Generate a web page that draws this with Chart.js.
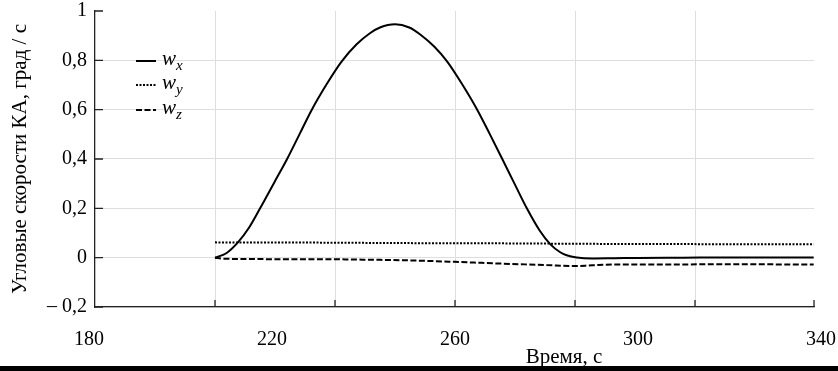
<!DOCTYPE html>
<html><head><meta charset="utf-8">
<script src="https://cdn.jsdelivr.net/npm/chart.js@4"></script>
<style>
html,body{margin:0;padding:0;background:#fff;}
#wrap{position:relative;width:838px;height:371px;overflow:hidden;background:#fff;}
#c{position:absolute;left:0;top:0;}
#ov{position:absolute;left:0;top:0;pointer-events:none;}
#bar{position:absolute;left:0;right:0;top:366px;height:5px;background:#000;}
</style></head><body>
<div id="wrap"><canvas id="c" width="838" height="371"></canvas>
<svg id="ov" width="838" height="371" xmlns="http://www.w3.org/2000/svg"></svg>
<div id="bar"></div></div>
<script>
// ---- data ----
const xTickLabels = [180, 220, 260, 300, 340];
const xGridTicks = [207.54, 233.77, 260, 286.23, 312.46, 338.47];
const yTicks = [-0.2, 0, 0.2, 0.4, 0.6, 0.8, 1];
const xTitle = 'Время, с';
const yTitle = 'Угловые скорости КА, град / с';
const legendSubs = ['x', 'y', 'z'];

const timeWx = [207.54, 210, 212.6, 215, 217.4, 220.5, 223.3, 226, 228.7, 232, 235.2, 238.5, 241.4, 243.6, 246.9, 250, 252.4, 255.5, 258.3, 261.5, 264.7, 267.5, 270.2, 273, 275.7, 278.5, 280.8, 283, 284.4, 286.6, 290, 295, 300, 310, 320, 330, 338.4];
const wx = [0, 0.018, 0.063, 0.122, 0.2, 0.305, 0.4, 0.5, 0.6, 0.705, 0.795, 0.865, 0.91, 0.933, 0.946, 0.933, 0.905, 0.855, 0.795, 0.705, 0.605, 0.505, 0.405, 0.30, 0.2, 0.11, 0.055, 0.022, 0.01, 0.001, -0.003, -0.002, -0.001, 0.0, 0.001, 0.001, 0.001];

const timeWy = [207.54, 230, 250, 270, 290, 310, 338.4];
const wy = [0.062, 0.061, 0.059, 0.058, 0.056, 0.055, 0.054];

const timeWz = [207.54, 209, 212, 220, 230, 240, 250, 260, 270, 280, 286, 290, 295, 305, 315, 325, 338.4];
const wz = [0, -0.004, -0.005, -0.006, -0.006, -0.008, -0.011, -0.017, -0.024, -0.030, -0.034, -0.031, -0.028, -0.028, -0.027, -0.027, -0.028];

const X_MIN = 181.31, X_MAX = 338.47;

// ---- chart ----
Chart.defaults.font.family = "'Liberation Serif', 'Times New Roman', serif";
Chart.defaults.color = '#000';

const pts = (ts, vs) => ts.map((t, i) => ({x: t, y: vs[i]}));
const fmt = v => {
  if (Math.abs(v) < 1e-9) return '0';
  if (Math.abs(v - 1) < 1e-9) return '1';
  const s = Math.abs(v).toFixed(1).replace('.', ',');
  return v < 0 ? '\u2013 ' + s : s;
};

const innerTicks = {
  id: 'innerTicks',
  afterDraw(chart) {
    const {ctx, chartArea: a} = chart;
    const x = chart.scales.x, y = chart.scales.y;
    ctx.save();
    ctx.strokeStyle = '#222';
    ctx.lineWidth = 1.3;
    ctx.beginPath();
    xGridTicks.forEach(v => { const p = x.getPixelForValue(v); ctx.moveTo(p, a.bottom); ctx.lineTo(p, a.bottom - 7); });
    yTicks.forEach(v => { const p = y.getPixelForValue(v); ctx.moveTo(a.left, p); ctx.lineTo(a.left + 8, p); });
    ctx.stroke();
    ctx.restore();
  }
};

const dashes = [[], [2, 1.5], [6, 2.5]];

new Chart(document.getElementById('c'), {
  type: 'line',
  data: {
    datasets: [
      {label: 'wx', data: pts(timeWx, wx), borderDash: dashes[0]},
      {label: 'wy', data: pts(timeWy, wy), borderDash: dashes[1]},
      {label: 'wz', data: pts(timeWz, wz), borderDash: dashes[2]}
    ].map(d => Object.assign({borderColor: '#000', borderWidth: 2, pointRadius: 0, fill: false, cubicInterpolationMode: 'monotone'}, d))
  },
  options: {
    responsive: false, animation: false, devicePixelRatio: 1,
    layout: {padding: {top: 11, right: 24, left: 0, bottom: 0}},
    plugins: {legend: {display: false}, tooltip: {enabled: false}},
    scales: {
      x: {
        type: 'linear', position: 'bottom', min: X_MIN, max: X_MAX,
        afterBuildTicks: s => { s.ticks = xGridTicks.map(v => ({value: v})); },
        ticks: {display: false},
        grid: {drawTicks: false, lineWidth: 1, color: c => (c.tick && c.tick.value > 338) ? 'rgba(0,0,0,0)' : '#dedede'},
        border: {display: true, color: '#222', width: 1.3},
        afterFit: s => { s.height = 0; s.paddingLeft = 0; s.paddingRight = 0; }
      },
      x2: {
        type: 'linear', position: 'bottom', min: X_MIN, max: X_MAX,
        afterBuildTicks: s => { s.ticks = xTickLabels.map(v => ({value: v})); },
        ticks: {autoSkip: false, maxRotation: 0, padding: 13, color: '#000', font: {size: 20}, callback: v => String(v)},
        grid: {display: false}, border: {display: false},
        afterFit: s => { s.height = 64; s.paddingLeft = 0; s.paddingRight = 0; }
      },
      y: {
        min: -0.2, max: 1,
        afterBuildTicks: s => { s.ticks = yTicks.map(v => ({value: v})); },
        ticks: {padding: 8, color: '#000', font: {size: 20}, callback: v => fmt(v)},
        grid: {drawTicks: false, lineWidth: 1, color: c => (c.tick && c.tick.value > 0.99) ? 'rgba(0,0,0,0)' : '#dedede'},
        border: {color: '#222', width: 1.3},
        title: {display: true, text: yTitle, color: '#000', font: {size: 21}, padding: {top: 8, bottom: 0}},
        afterFit: s => { s.width = 95; s.paddingTop = 0; s.paddingBottom = 0; }
      }
    }
  },
  plugins: [innerTicks]
});

// ---- legend & x title overlay (SVG text) ----
const NS = 'http://www.w3.org/2000/svg';
const svg = document.getElementById('ov');
const rowsY = [61, 85, 110];
const fam = "Liberation Serif, Times New Roman, serif";
legendSubs.forEach((sub, i) => {
  const ly = rowsY[i];
  const ln = document.createElementNS(NS, 'line');
  ln.setAttribute('x1', 136); ln.setAttribute('x2', 156);
  ln.setAttribute('y1', ly); ln.setAttribute('y2', ly);
  ln.setAttribute('stroke', '#000'); ln.setAttribute('stroke-width', 2);
  if (dashes[i].length) ln.setAttribute('stroke-dasharray', dashes[i].join(' '));
  svg.appendChild(ln);
  const tx = document.createElementNS(NS, 'text');
  tx.setAttribute('x', 162); tx.setAttribute('y', ly + 4);
  tx.setAttribute('font-family', fam); tx.setAttribute('font-size', 21);
  tx.setAttribute('font-style', 'italic');
  tx.appendChild(document.createTextNode('w'));
  const ts = document.createElementNS(NS, 'tspan');
  ts.setAttribute('font-size', 15); ts.setAttribute('dy', 5);
  ts.textContent = sub;
  tx.appendChild(ts);
  svg.appendChild(tx);
});
const xt = document.createElementNS(NS, 'text');
xt.setAttribute('x', 564); xt.setAttribute('y', 363);
xt.setAttribute('text-anchor', 'middle');
xt.setAttribute('font-family', fam); xt.setAttribute('font-size', 21);
xt.textContent = xTitle;
svg.appendChild(xt);
</script>
</body></html>
